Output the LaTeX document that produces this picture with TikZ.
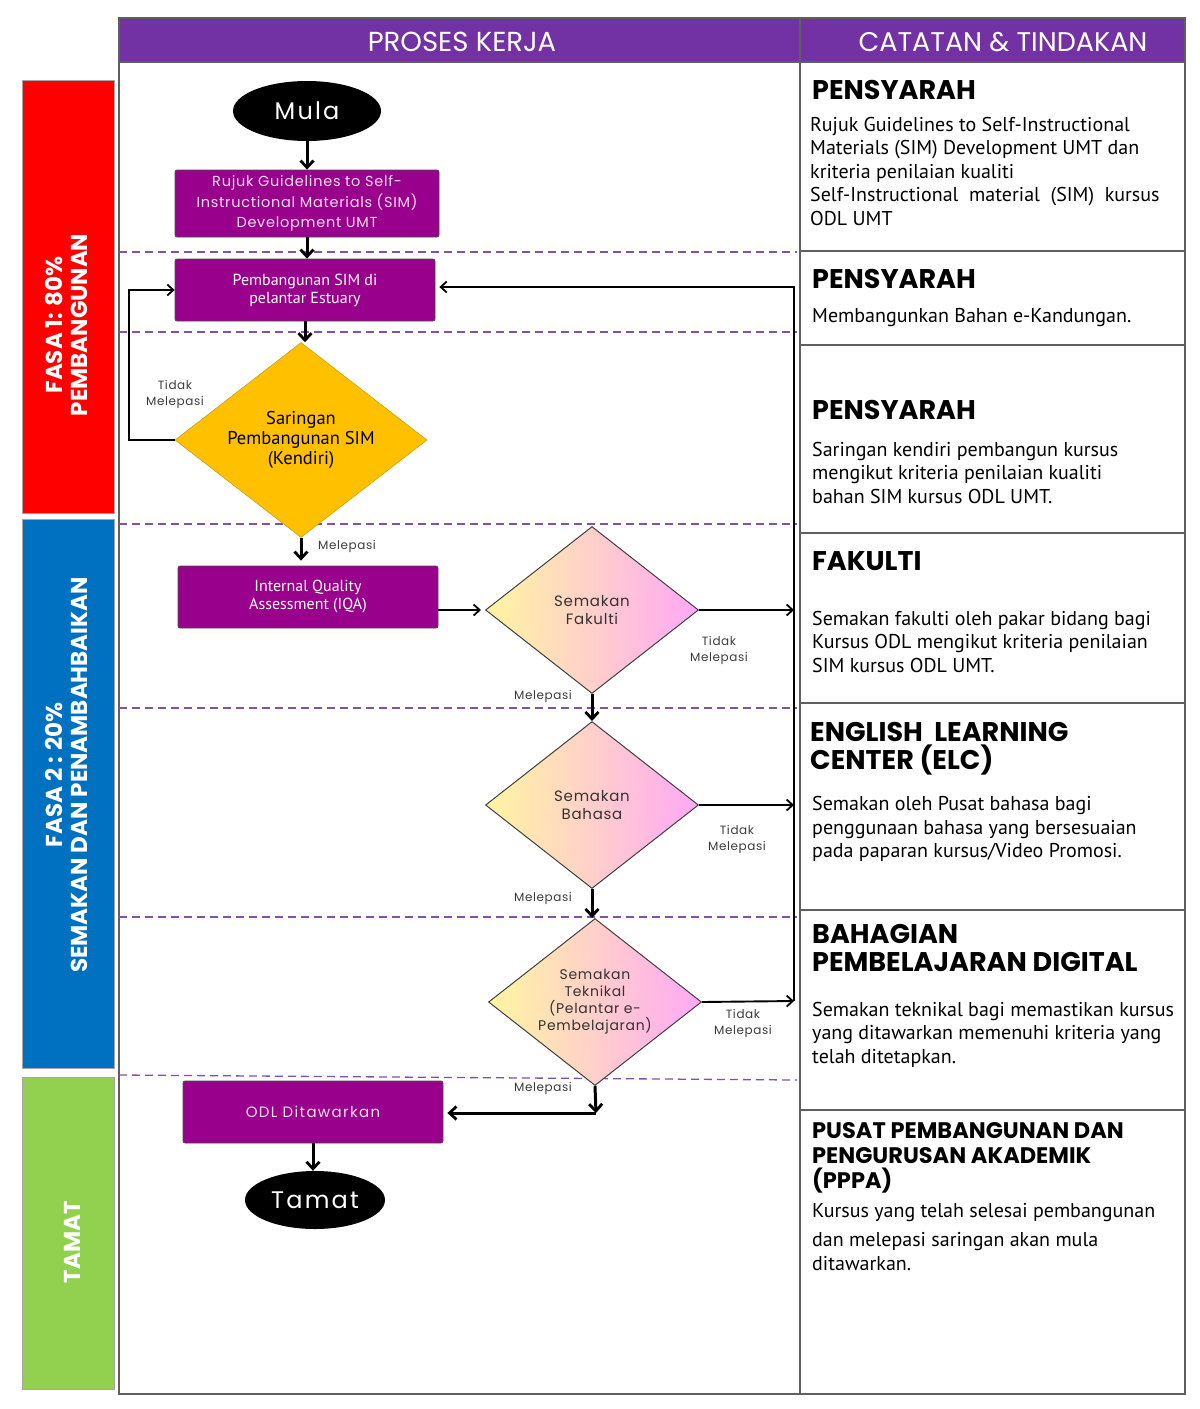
\documentclass[tikz,border=0pt]{standalone}
\usepackage{fontspec}
\setmainfont{PT Sans}
\newfontfamily\popfont{Poppins}
\newfontfamily\popspaced{Poppins}[LetterSpace=5]
\newfontfamily\popwide{Poppins}[LetterSpace=9]
\usetikzlibrary{arrows.meta,positioning,calc,shapes.geometric}
\definecolor{headpurple}{RGB}{114,50,164}
\definecolor{boxpurple}{RGB}{153,0,139}
\definecolor{boxtext}{RGB}{246,222,246}
\definecolor{sepurple}{RGB}{128,82,172}
\definecolor{framegray}{RGB}{95,95,95}
\definecolor{saringgold}{RGB}{255,192,0}
\definecolor{diayellow}{RGB}{255,246,160}
\definecolor{diapink}{RGB}{255,168,246}
\definecolor{fasared}{RGB}{255,0,0}
\definecolor{fasablue}{RGB}{0,112,192}
\definecolor{fasagreen}{RGB}{146,208,80}
\definecolor{lblgray}{RGB}{60,60,60}
\tikzset{
  box/.style={draw=black!70, line width=0.8pt, rounded corners=2pt, fill=boxpurple, text=boxtext, align=center, minimum width=260, minimum height=62, inner sep=0pt},
  terminal/.style={ellipse, fill=black, text=white, inner sep=0pt, font=\popwide\fontsize{24}{28}\selectfont},
  saring/.style={diamond, fill=saringgold, draw=saringgold!80!black, line width=0.5pt, aspect=1.29, inner sep=0pt, minimum width=252, minimum height=195, align=center, font=\fontsize{18.5}{20}\selectfont},
  semak/.style={diamond, left color=diayellow, right color=diapink, draw=black!75, line width=1pt, aspect=1.28, inner sep=0pt, minimum width=213, minimum height=167, align=center, text=black!80},
  arrow/.style={-{Straight Barb[length=7pt,width=13pt,line width=2.8pt]}, line width=3pt},
  thinarrow/.style={-{Straight Barb[length=6pt,width=11pt,line width=1.8pt]}, line width=1.9pt},
  sep/.style={sepurple, line width=1.3pt, dash pattern=on 8pt off 5pt},
  lbl/.style={font=\popspaced\fontsize{12}{16}\selectfont, text=lblgray, align=center, inner sep=0pt},
  phasebar/.style={draw=black!35, line width=0.8pt, minimum width=92, inner sep=0pt},
  phasetext/.style={rotate=90, text=white, align=center, inner sep=0pt, font=\popfont\bfseries\fontsize{23}{25}\selectfont},
  heading/.style={anchor=west, align=left, inner sep=0pt, font=\popfont\bfseries\fontsize{27}{28}\selectfont},
  body/.style={anchor=west, align=left, inner sep=0pt, font=\fontsize{20}{23.5}\selectfont},
}
\begin{document}
\begin{tikzpicture}[x=1pt, y=-1pt]
  \useasboundingbox (0,0) rectangle (1200,1409);

  % Frame and header
  \fill[headpurple] (119,18) rectangle (1185,62);
  \draw[framegray, line width=1.5pt] (119,18) rectangle (1185,1394);
  \draw[framegray, line width=1.5pt] (800,18) -- (800,1394);
  \draw[framegray, line width=1.5pt] (119,62) -- (1185,62);
  \node[text=white, font=\popfont\fontsize{27.5}{30}\selectfont] (hproses) at (462,42) {PROSES KERJA};
  \node[text=white, font=\popfont\fontsize{27}{30}\selectfont] (hcatatan) at (1003,42) {CATATAN \& TINDAKAN};
  \foreach \y in {251,345,533,703,910,1110}
    \draw[framegray, line width=1.5pt] (800,\y) -- (1185,\y);
  \foreach \y in {252,332,524,708,917}
    \draw[sep] (119,\y) -- (797,\y);
  \draw[sep] (119,1075) -- (797,1080);

  % Phase bars
  \node[phasebar, fill=fasared, minimum height=433] (fasa1) at (68,296.5) {};
  \node[phasebar, fill=fasablue, minimum height=549] (fasa2) at (68,793.5) {};
  \node[phasebar, fill=fasagreen, minimum height=312] (fasa3) at (68,1233) {};
  \node[phasetext] (fasa1txt) at (67,325) {FASA 1: 80\%\\PEMBANGUNAN};
  \node[phasetext] (fasa2txt) at (67,775) {FASA 2 : 20\%\\SEMAKAN DAN PENAMBAHBAIKAN};
  \node[phasetext] (fasa3txt) at (72,1242) {TAMAT};

  % Flow nodes
  \node[terminal, minimum width=148, minimum height=60] (mula) at (307,111) {Mula};
  \node[box, minimum width=264, minimum height=67, font=\popspaced\fontsize{14.5}{20.5}\selectfont] (rujuk) at (307,203.5) {Rujuk Guidelines to Self-\\Instructional Materials (SIM)\\Development UMT};
  \node[box, font=\fontsize{16}{18}\selectfont, text=white] (bina) at (305,290) {Pembangunan SIM di\\pelantar Estuary};
  \node[saring] (saringan) at (301,440) {Saringan\\Pembangunan SIM\\(Kendiri)};
  \node[box, font=\fontsize{16}{18}\selectfont, text=white] (iqa) at (308,597) {Internal Quality\\Assessment (IQA)};
  \node[semak, font=\popspaced\fontsize{15}{18}\selectfont] (fakulti) at (592,610) {Semakan\\Fakulti};
  \node[semak, font=\popspaced\fontsize{15}{18}\selectfont] (bahasa) at (592,805) {Semakan\\Bahasa};
  \node[semak, font=\popspaced\fontsize{14}{17}\selectfont] (teknikal) at (595,1002) {Semakan\\Teknikal\\(Pelantar e-\\Pembelajaran)};
  \node[box, font=\popwide\fontsize{15}{18}\selectfont] (odl) at (313,1112) {ODL Ditawarkan};
  \node[terminal, minimum width=140, minimum height=58] (tamat) at (315,1200) {Tamat};

  \coordinate (loopL) at (129,0);
  \coordinate (fbTop) at (794,287);
  \coordinate (fbBot) at (794,1001);
  \coordinate (odlCorner) at (596,1113);

  % Main flow
  \draw[arrow] (mula) -- (rujuk);
  \draw[arrow] (rujuk.south) -- (rujuk.south |- bina.north);
  \draw[arrow] (bina.south) -- (bina.south |- saringan.north);
  \draw[arrow, shorten >=5pt] (saringan.south) -- (saringan.south |- iqa.north);
  \draw[thinarrow, shorten >=4pt] (iqa.east |- fakulti.west) -- (fakulti.west);
  \draw[arrow] (fakulti.south) -- (bahasa.north);
  \draw[arrow] (bahasa.south) -- (bahasa.south |- teknikal.north);
  \draw[arrow] (teknikal.south) -- (odlCorner);
  \draw[arrow, shorten >=4pt] (odlCorner) -- (odlCorner -| odl.east);
  \draw[arrow] (odl.south) -- (odl.south |- tamat.north);

  % Feedback loops
  \draw[thinarrow] (saringan.west) -- (saringan.west -| loopL) -- (bina.west -| loopL) -- (bina.west);
  \draw[thinarrow] (fakulti.east) -- (fakulti.east -| fbTop);
  \draw[thinarrow] (bahasa.east) -- (bahasa.east -| fbTop);
  \draw[thinarrow] (teknikal.east) -- (fbBot);
  \draw[thinarrow, shorten >=4pt] (fbBot) -- (fbTop) -- (bina.east |- fbTop);

  % Decision labels
  \node[lbl] (tidak0) at (175,394) {Tidak\\Melepasi};
  \node[lbl] (lepas0) at (347,546) {Melepasi};
  \node[lbl] (tidak1) at (719,650) {Tidak\\Melepasi};
  \node[lbl] (lepas1) at (543,696) {Melepasi};
  \node[lbl] (tidak2) at (737,839) {Tidak\\Melepasi};
  \node[lbl] (lepas2) at (543,898) {Melepasi};
  \node[lbl] (tidak3) at (743,1023) {Tidak\\Melepasi};
  \node[lbl] (lepas3) at (543,1088) {Melepasi};

  % Notes column
  \node[heading] (n1h) at (812,90) {PENSYARAH};
  \node[body] (n1b) at (810,171) {Rujuk Guidelines to Self-Instructional\\Materials (SIM) Development UMT dan\\kriteria penilaian kualiti\\Self-Instructional\ \ material\ \ (SIM)\ \ kursus\\ODL UMT};
  \node[heading] (n2h) at (812,279) {PENSYARAH};
  \node[body] (n2b) at (812,318) {Membangunkan Bahan e-Kandungan.};
  \node[heading] (n3h) at (812,410) {PENSYARAH};
  \node[body] (n3b) at (812,472.5) {Saringan kendiri pembangun kursus\\mengikut kriteria penilaian kualiti\\bahan SIM kursus ODL UMT.};
  \node[heading] (n4h) at (812,561) {FAKULTI};
  \node[body] (n4b) at (812,641.5) {Semakan fakulti oleh pakar bidang bagi\\Kursus ODL mengikut kriteria penilaian\\SIM kursus ODL UMT.};
  \node[heading] (n5h) at (810,749) {ENGLISH\ \ LEARNING\\CENTER (ELC)};
  \node[body] (n5b) at (812,829) {Semakan oleh Pusat bahasa bagi\\penggunaan bahasa yang bersesuaian\\pada paparan kursus/Video Promosi.};
  \node[heading] (n6h) at (812,948) {BAHAGIAN\\PEMBELAJARAN DIGITAL};
  \node[body] (n6b) at (812,1034.5) {Semakan teknikal bagi memastikan kursus\\yang ditawarkan memenuhi kriteria yang\\telah ditetapkan.};
  \node[heading, font=\popfont\bfseries\fontsize{22.5}{25}\selectfont] (n7h) at (812,1158) {PUSAT PEMBANGUNAN DAN\\PENGURUSAN AKADEMIK\\(PPPA)};
  \node[body] (n7b) at (812,1237) {Kursus yang telah selesai pembangunan\\[6pt]dan melepasi saringan akan mula\\ditawarkan.};
\end{tikzpicture}
\end{document}
